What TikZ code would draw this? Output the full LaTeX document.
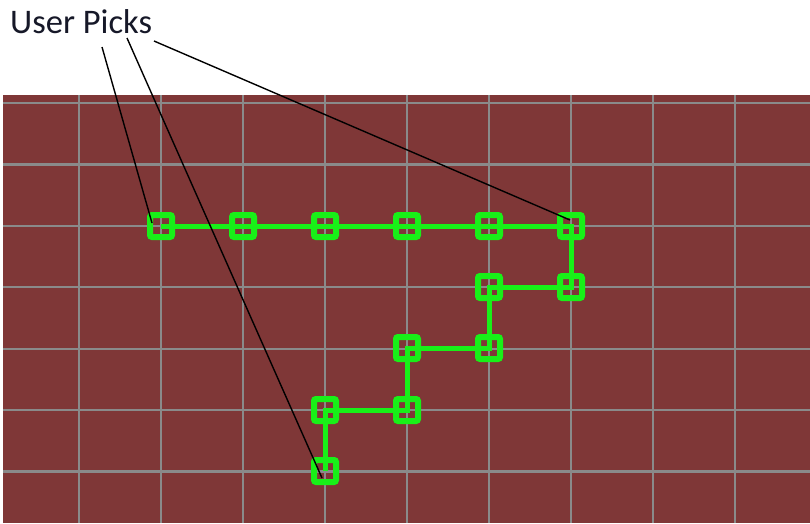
\documentclass[tikz,border=0pt]{standalone}
\usepackage{fontspec}
\setmainfont{Carlito}
\usetikzlibrary{calc}
\definecolor{boardred}{RGB}{127,55,55}
\definecolor{gridgray}{RGB}{138,138,138}
\definecolor{pickgreen}{RGB}{24,240,24}
\definecolor{labelink}{RGB}{22,24,40}
\tikzset{
	pick/.style={draw=pickgreen, line width=6pt, minimum size=22pt, inner sep=0pt,
		rounded corners=2pt},
	pickpath/.style={pickgreen, line width=5pt},
	gridline/.style={gridgray, line width=2.2pt},
	callout/.style={black, line width=1.4pt},
}

\begin{document}
\begin{tikzpicture}[x=1pt, y=-1pt]
	\useasboundingbox (0,0) rectangle (810,523);
	
	%% -- Board with grid
	\fill[boardred] (3,95) rectangle (810,523);
	\foreach \gx in {0,...,8}
		\draw[gridline] ({79+82*\gx},95) -- ({79+82*\gx},523);
	\foreach \gy in {0,...,6}
		\draw[gridline] (3,{103+61.4*\gy}) -- (810,{103+61.4*\gy});
	
	%% -- Picked cells
	\node[pick] (p1) at (161,226) {};
	\node[pick] (p2) at (243,226) {};
	\node[pick] (p3) at (325,226) {};
	\node[pick] (p4) at (407,226) {};
	\node[pick] (p5) at (489,226) {};
	\node[pick] (p6) at (571,226) {};
	\node[pick] (p7) at (571,287) {};
	\node[pick] (p8) at (489,287) {};
	\node[pick] (p9) at (489,348) {};
	\node[pick] (p10) at (407,348) {};
	\node[pick] (p11) at (407,410) {};
	\node[pick] (p12) at (325,410) {};
	\node[pick] (p13) at (325,471) {};
	
	\draw[pickpath] (p1.center) -- (p2.center) -- (p3.center) -- (p4.center)
		-- (p5.center) -- (p6.center) -- (p7.center) -- (p8.center)
		-- (p9.center) -- (p10.center) -- (p11.center) -- (p12.center)
		-- (p13.center);
	
	%% -- Label and callout lines
	\node[anchor=base west, inner sep=0pt, text=labelink,
	font=\fontsize{34.5}{40}\selectfont] (lbl) at (10,33) {User Picks};
	
	\coordinate (c1) at ($(lbl.base west)+(92,14)$);
	\coordinate (c2) at ($(lbl.base west)+(117,5)$);
	\coordinate (c3) at ($(lbl.base west)+(144,8)$);
	
	\draw[callout] (c1) -- ($(p1.center)+(-9,-3)$);
	\draw[callout] (c2) -- ($(p13.center)+(-3,7)$);
	\draw[callout] (c3) -- ($(p6.center)+(-1,-6)$);
\end{tikzpicture}
\end{document}
